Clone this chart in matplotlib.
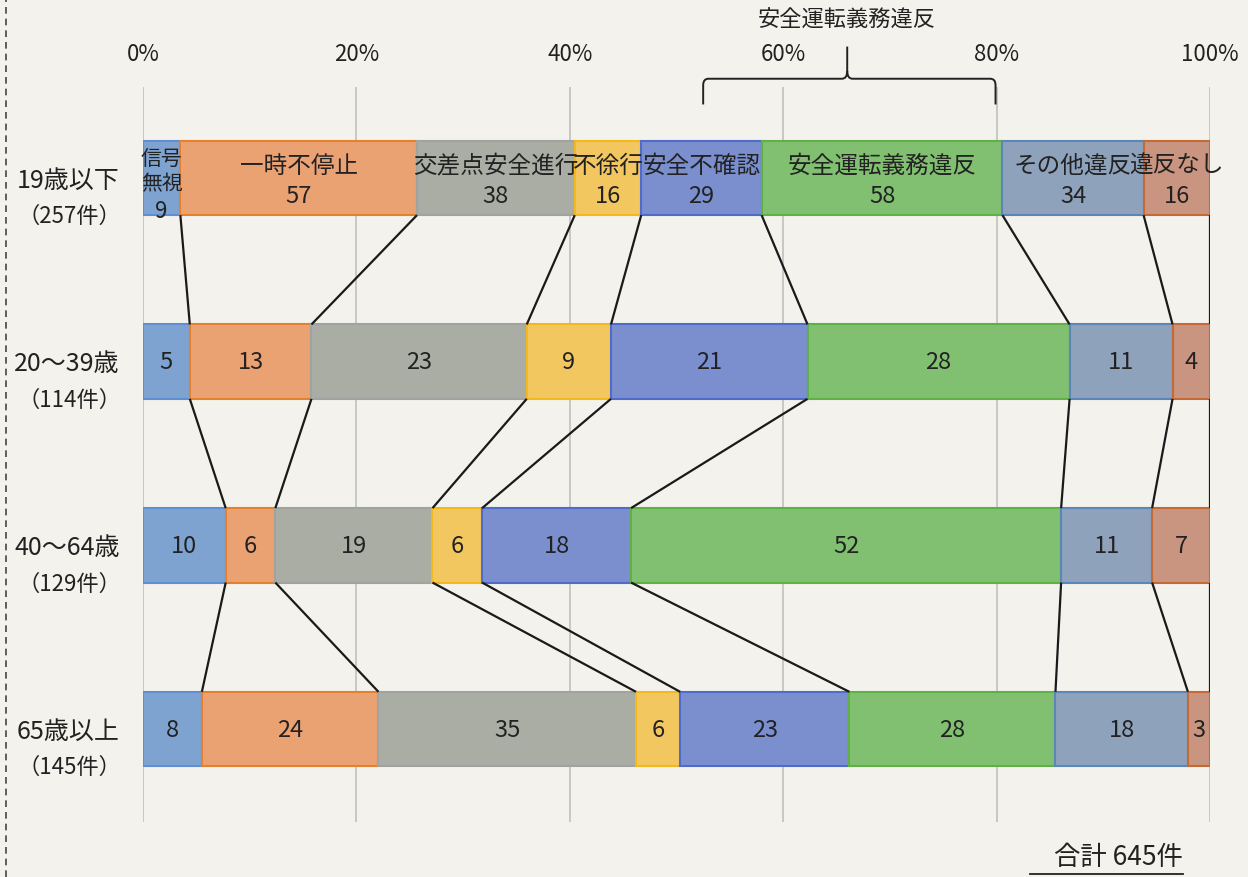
import numpy as np
import matplotlib.pyplot as plt
from matplotlib.path import Path
from matplotlib.patches import PathPatch

plt.rcParams['font.family'] = ['Noto Sans CJK JP', 'DejaVu Sans']

# data
categories = ['信号\n無視', '一時不停止', '交差点安全進行', '不徐行', '安全不確認',
              '安全運転義務違反', 'その他違反', '違反なし']
age_groups = ['19歳以下', '20～39歳', '40～64歳', '65歳以上']
counts_u19 = [9, 57, 38, 16, 29, 58, 34, 16]
counts_20_39 = [5, 13, 23, 9, 21, 28, 11, 4]
counts_40_64 = [10, 6, 19, 6, 18, 52, 11, 7]
counts_65 = [8, 24, 35, 6, 23, 28, 18, 3]
total_label = '合計 645件'

fills = ['#7fa3d0', '#eba273', '#a9ada3', '#f2c760', '#7b8fce', '#82c071', '#8ea2bb', '#c99580']
edges = ['#5f8fd2', '#e6802f', '#a0a3a0', '#f2b81e', '#4f6ccc', '#5fb045', '#5a86b8', '#c66a35']
bg = '#f3f2ec'
ink = '#222222'

rows = [counts_u19, counts_20_39, counts_40_64, counts_65]

fig = plt.figure(figsize=(12.48, 8.78), dpi=100, facecolor=bg)
ax = fig.add_axes([143 / 1248, 1 - 823 / 878, 1067 / 1248, 735 / 878])
ax.set_facecolor(bg)
ax.set_xlim(0, 100)
ax.set_ylim(3.506, -0.495)
for s in ax.spines.values():
    s.set_visible(False)

ax.xaxis.tick_top()
ax.set_xticks(np.arange(0, 101, 20))
ax.set_xticklabels([f'{v}%' for v in range(0, 101, 20)], fontsize=16, color=ink)
ax.tick_params(axis='x', length=0, pad=16)
ax.set_yticks([])
for v in range(0, 101, 20):
    ax.axvline(v, color='#c4c4c4', lw=1.3, zorder=0)

h = 0.405
cums = []
for i, vals in enumerate(rows):
    vals = np.array(vals, dtype=float)
    tot = vals.sum()
    pct = vals / tot * 100
    left = np.concatenate([[0], np.cumsum(pct)[:-1]])
    cums.append(np.cumsum(pct))
    ax.barh([i] * len(vals), pct, left=left, height=h, color=fills,
            edgecolor=edges, linewidth=1.5, zorder=2)
    for j, (l, p, v) in enumerate(zip(left, pct, vals)):
        cx = l + p / 2
        if i == 0:
            if j == 0:
                ax.text(cx, i - 0.04, categories[j], ha='center', va='center',
                        fontsize=15, color=ink, linespacing=1.15, zorder=4)
                ax.text(cx, i + 0.175, f'{int(v)}', ha='center', va='center',
                        fontsize=16, color=ink, zorder=4)
            else:
                ax.text(cx, i - 0.07, categories[j], ha='center', va='center',
                        fontsize=17, color=ink, zorder=4)
                ax.text(cx, i + 0.095, f'{int(v)}', ha='center', va='center',
                        fontsize=17, color=ink, zorder=4)
        else:
            ax.text(cx, i, f'{int(v)}', ha='center', va='center',
                    fontsize=17, color=ink, zorder=4)
    ax.text(-2.2, i + 0.01, age_groups[i], ha='right', va='center',
            fontsize=18, color=ink, clip_on=False)
    ax.text(-2.0, i + 0.205, f'（{int(tot)}件）', ha='right', va='center',
            fontsize=16, color=ink, clip_on=False)

# connectors between consecutive rows
for i in range(len(rows) - 1):
    for k in range(len(categories)):
        ax.plot([cums[i][k], cums[i + 1][k]], [i + h / 2, i + 1 - h / 2],
                color='#1a1a1a', lw=1.6, zorder=3, solid_capstyle='butt')

# bracket for 安全運転義務違反
xl, xr, xm = 52.5, 79.9, 66.0
yb, yh, yp = -0.40, -0.54, -0.715
rx, ry = 0.5, 0.035
verts = [(xl, yb), (xl, yh + ry), (xl, yh), (xl + rx, yh),
         (xm - rx, yh), (xm, yh), (xm, yh - ry * 1.2), (xm, yp),
         (xm, yh - ry * 1.2), (xm, yh), (xm + rx, yh),
         (xr - rx, yh), (xr, yh), (xr, yh + ry), (xr, yb)]
codes = [Path.MOVETO, Path.LINETO, Path.CURVE3, Path.CURVE3,
         Path.LINETO, Path.CURVE3, Path.CURVE3, Path.LINETO,
         Path.MOVETO, Path.CURVE3, Path.CURVE3,
         Path.LINETO, Path.CURVE3, Path.CURVE3, Path.LINETO]
ax.add_patch(PathPatch(Path(verts, codes), fill=False, edgecolor=ink,
                       lw=1.4, clip_on=False))
ax.text(xm, -0.865, '安全運転義務違反', ha='center', va='center', fontsize=16,
        color=ink, clip_on=False)

# dashed frame line at left
fig.add_artist(plt.Line2D([6 / 1248, 6 / 1248], [0, 1], color='#444444',
                          lw=1.2, ls=(0, (4, 3))))

# total
fig.text(1183 / 1248, 1 - 858 / 878, total_label, ha='right', va='center',
         fontsize=19, color=ink)
fig.add_artist(plt.Line2D([1030 / 1248, 1183 / 1248], [1 - 875 / 878, 1 - 875 / 878],
                          color=ink, lw=1.3))

fig.savefig('out.png', dpi=100, facecolor=bg)
